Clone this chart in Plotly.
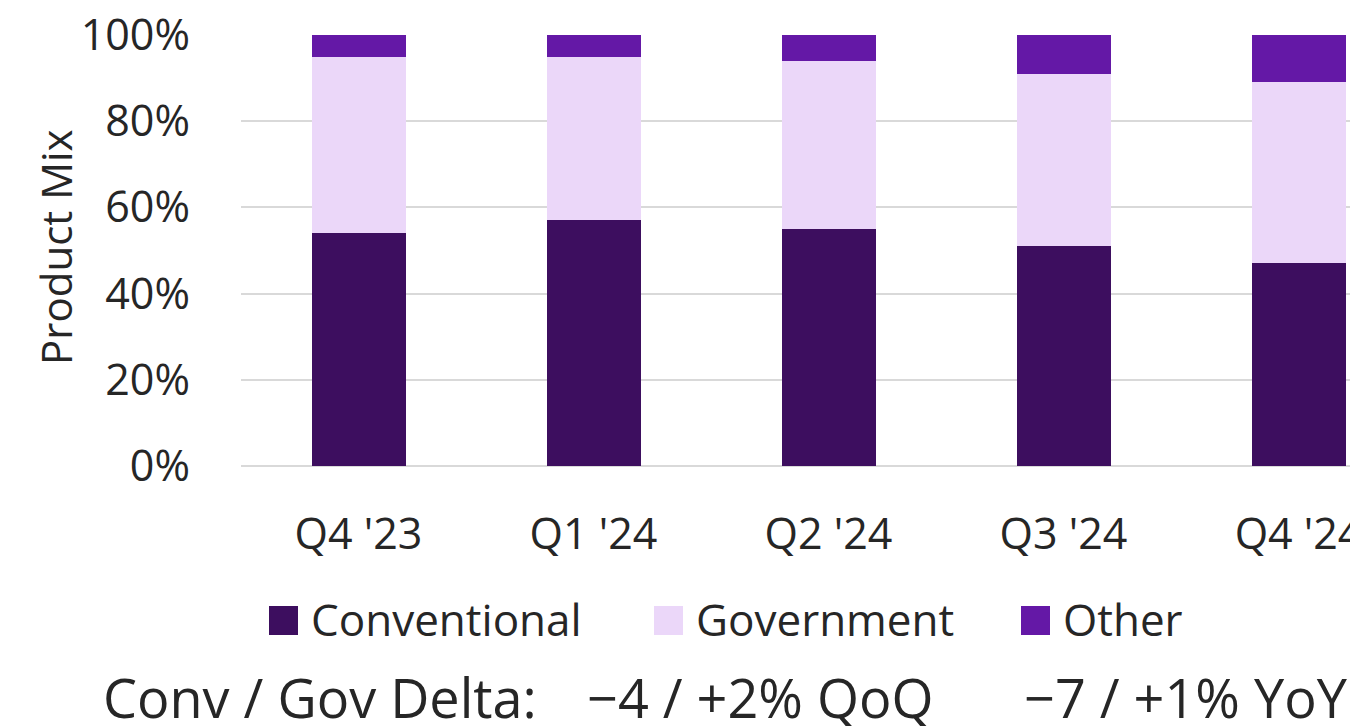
import plotly.graph_objects as go

categories = ["Q4 '23", "Q1 '24", "Q2 '24", "Q3 '24", "Q4 '24"]
conventional = [54, 57, 55, 51, 47]
government = [41, 38, 39, 40, 42]
other = [5, 5, 6, 9, 11]
series_names = ["Conventional", "Government", "Other"]
colors = ["#3D0E5F", "#EBD7F9", "#6418A6"]
y_ticks = [0, 20, 40, 60, 80, 100]
y_ticktext = ["0%", "20%", "40%", "60%", "80%", "100%"]
y_title = "Product Mix"
footer_label = "Conv / Gov Delta:"
footer_qoq = "\u22124 / +2% QoQ"
footer_yoy = "\u22127 / +1% YoY"

FONT = "Open Sans"
TXT = "#262626"

fig = go.Figure()
for name, vals, col in zip(series_names, [conventional, government, other], colors):
    fig.add_trace(go.Bar(x=categories, y=vals, name=name, marker=dict(color=col, line=dict(width=0)),
                         showlegend=False))

# page has an 8px body margin; figure is placed at (8, 8)
OFF = 8
W, H = 1358 - OFF, 726 - OFF
# plot area in page pixels: left 241, right 1358, top 35, bottom 466
L, R, T, B = 241, 1358, 35, 466
def px(x):
    return (x - L) / (R - L)
def py(y):
    return (B - y) / (B - T)

shapes = []
annotations = []
legend_x = [269, 654, 1021]
for name, col, x0 in zip(series_names, colors, legend_x):
    shapes.append(dict(type="rect", xref="paper", yref="paper",
                       x0=px(x0), x1=px(x0 + 29), y0=py(635), y1=py(606),
                       fillcolor=col, line=dict(width=0)))
    annotations.append(dict(xref="paper", yref="paper", x=px(x0 + 40), y=py(619),
                            xanchor="left", yanchor="middle", text=name, showarrow=False,
                            font=dict(family=FONT, size=44, color=TXT)))

for text, x in [(footer_label, 320), (footer_qoq, 760), (footer_yoy, 1186)]:
    annotations.append(dict(xref="paper", yref="paper", x=px(x), y=py(697), xanchor="center",
                            yanchor="middle", text=text, showarrow=False,
                            font=dict(family=FONT, size=54, color=TXT)))

annotations.append(dict(xref="paper", yref="paper", x=px(55), y=py(247), xanchor="center",
                        yanchor="middle", text=y_title, textangle=-90, showarrow=False,
                        font=dict(family=FONT, size=42, color=TXT)))

fig.update_layout(
    width=W, height=H,
    margin=dict(l=L - OFF, r=0, t=T - OFF, b=H - (B - OFF), pad=0),
    barmode="stack", bargap=0.6,
    plot_bgcolor="white", paper_bgcolor="white",
    font=dict(family=FONT, color=TXT),
    shapes=shapes, annotations=annotations,
    showlegend=False,
)
fig.update_xaxes(type="category", range=[-0.5, 4.253], showgrid=False, showline=False,
                 ticks="", ticklabelstandoff=39, tickfont=dict(size=43, color=TXT),
                 ticklabeloverflow="allow", automargin=False)
fig.update_yaxes(range=[0, 100], tickvals=y_ticks, ticktext=y_ticktext, showgrid=True,
                 gridcolor="#D9D9D9", gridwidth=2, zeroline=True, zerolinecolor="#D9D9D9",
                 zerolinewidth=2, showline=False, ticks="", ticklabelstandoff=50,
                 ticklabeloverflow="allow",
                 tickfont=dict(size=43, color=TXT), automargin=False)

fig.write_html("out.html")
